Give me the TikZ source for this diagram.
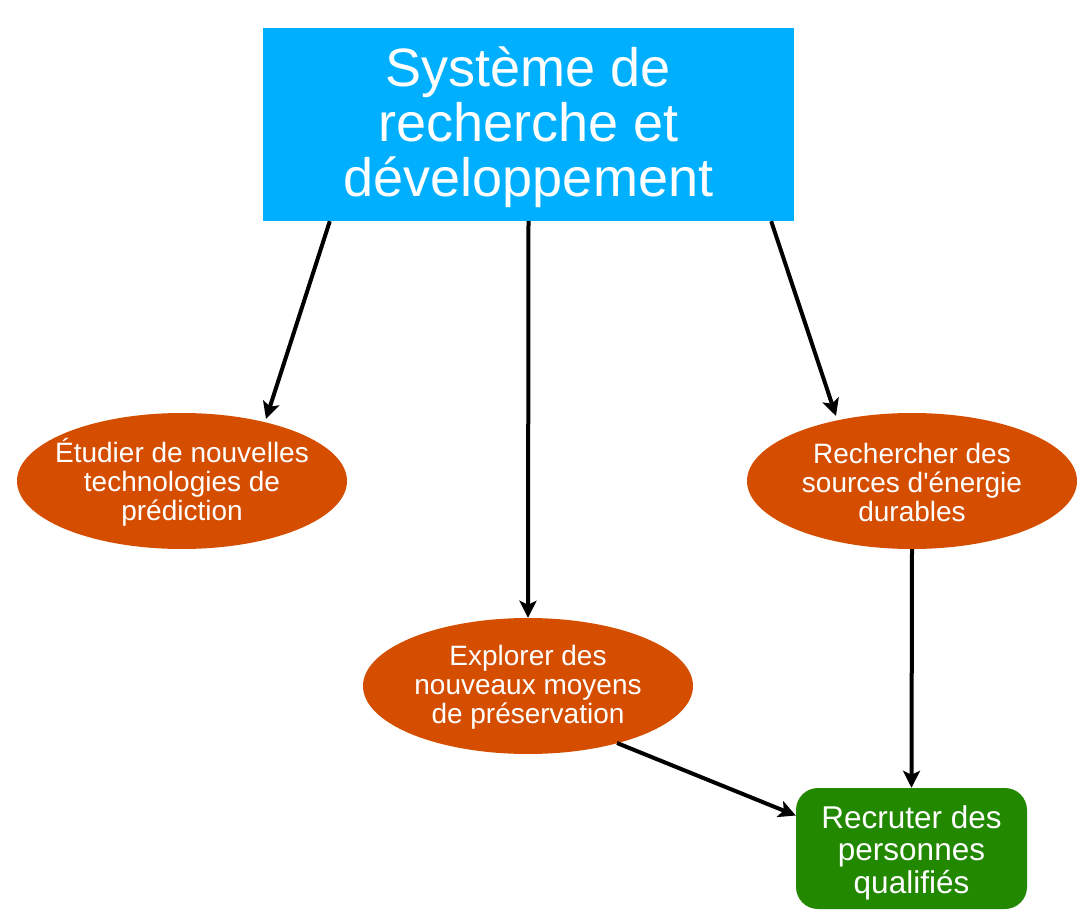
\documentclass[tikz,border=0pt]{standalone}
\usepackage{fontspec}
\setmainfont{Liberation Sans}[Ligatures=TeXOff]
\usetikzlibrary{arrows.meta,shapes.geometric,calc}
\definecolor{topblue}{HTML}{00B0FF}
\definecolor{ovalorange}{HTML}{D54E00}
\definecolor{boxgreen}{HTML}{228800}
\tikzset{
  topbox/.style={rectangle,fill=topblue,minimum width=531pt,minimum height=193pt,inner sep=0pt},
  toptext/.style={text=white,inner sep=0pt,align=center,font=\fontsize{54}{55}\selectfont},
  oval/.style={ellipse,fill=ovalorange,minimum width=330pt,minimum height=136pt,inner sep=0pt},
  ovaltext/.style={text=white,inner sep=0pt,align=center,font=\fontsize{28}{29}\selectfont},
  greenbox/.style={rectangle,rounded corners=22pt,fill=boxgreen,minimum width=231pt,minimum height=121pt,inner sep=0pt},
  greentext/.style={text=white,inner sep=0pt,align=center,font=\fontsize{31.5}{32.5}\selectfont},
  link/.style={line width=4pt,-{Stealth[length=17pt,width=17pt,inset=4pt]}}
}
\begin{document}
\begin{tikzpicture}[x=1pt,y=-1pt]
\useasboundingbox (0,0) rectangle (1090,920);
\node[topbox] (top) at (528.5,124.5) {};
\node[toptext] (toptxt) at ($(top.center)+(0,3)$) {Système de\\recherche et\\développement};
\node[oval] (left) at (182,481) {};
\node[ovaltext] (lefttxt) at ($(left.center)+(0,1)$) {Étudier de nouvelles\\technologies de\\prédiction};
\node[oval] (mid) at (528,686) {};
\node[ovaltext] (midtxt) at ($(mid.center)+(0,1)$) {Explorer des\\nouveaux moyens\\de préservation};
\node[oval] (right) at (912,481) {};
\node[ovaltext] (righttxt) at ($(right.center)+(0,1)$) {Rechercher des\\sources d'énergie\\durables};
\node[greenbox] (rec) at (911.5,848.5) {};
\node[greentext] (rectxt) at ($(rec.center)+(0,4)$) {Recruter des\\personnes\\qualifiés};
\draw[link] ($(top.south west)+(67,0)$) -- ($(left.center)+(84,-62)$);
\draw[link] (top.south) -- (mid.north);
\draw[link] ($(top.south east)+(-23,0)$) -- ($(right.center)+(-76,-65)$);
\draw[link] (right.south) -- (rec.north);
\draw[link] ($(mid.center)+(89,57)$) -- ($(rec.west)+(0,-33)$);
\end{tikzpicture}
\end{document}
